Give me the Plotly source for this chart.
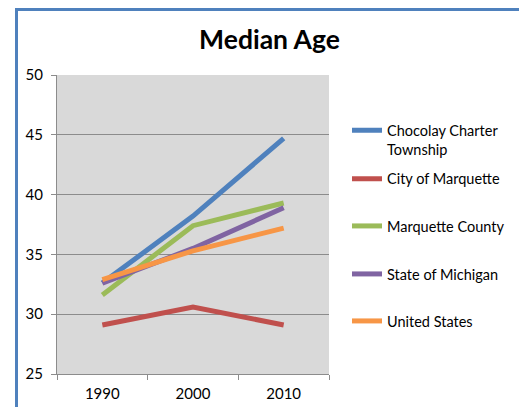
import plotly.graph_objects as go

years = ["1990", "2000", "2010"]
series_names = ["Chocolay Charter<br>Township", "City of Marquette", "Marquette County",
                "State of Michigan", "United States"]
chocolay = [32.6, 38.2, 44.7]
city_marquette = [29.1, 30.6, 29.1]
marquette_county = [31.6, 37.4, 39.3]
michigan = [32.6, 35.5, 38.9]
united_states = [32.9, 35.3, 37.2]
colors = ["#4F81BD", "#C0504D", "#9BBB59", "#8064A2", "#F79646"]
y_ticks = [25, 30, 35, 40, 45, 50]

W, H = 519, 407
L, R, T, B = 57, 190, 75, 33
pw, ph = W - L - R, H - T - B

def px_x(p):
    return (p - L) / pw

def px_y(p):
    return (H - B - p) / ph

FONT = "Lato"
fig = go.Figure()
all_vals = [chocolay, city_marquette, marquette_county, michigan, united_states]
legend_rows = [130.7, 178.7, 226, 274, 321]
for i, (name, vals) in enumerate(zip(series_names, all_vals)):
    lg = "legend" if i == 0 else f"legend{i+1}"
    fig.add_trace(go.Scatter(x=years, y=vals, mode="lines", name=name,
                             line=dict(color=colors[i], width=5),
                             legend=lg))

legend_common = dict(xanchor="left", yanchor="middle", bgcolor="rgba(0,0,0,0)",
                     font=dict(family=FONT, size=14.5, color="#000"), valign="top",
                     itemwidth=30)
layout_legends = {}
for i, row in enumerate(legend_rows):
    key = "legend" if i == 0 else f"legend{i+1}"
    yy = row + (9 if i == 0 else 0)
    layout_legends[key] = dict(x=px_x(347), y=px_y(yy), **legend_common)

fig.update_layout(
    width=W, height=H,
    margin=dict(l=L, r=R, t=T, b=B, pad=0, autoexpand=False),
    paper_bgcolor="white",
    plot_bgcolor="#D9D9D9",
    showlegend=True,
    title=dict(text="<b>Median Age</b>", x=269.5 / W, xref="container", xanchor="center",
               y=(H - 40) / H, yref="container", yanchor="middle",
               font=dict(family=FONT, size=26.5, color="#000")),
    xaxis=dict(type="category", range=[-0.5, 2.5], tickson="boundaries", ticks="outside",
               ticklen=5, tickcolor="#8C8C8C", showline=True, linecolor="#8C8C8C",
               showgrid=False, zeroline=False, ticklabelstandoff=6,
               tickfont=dict(family=FONT, size=15, color="#000")),
    yaxis=dict(range=[25, 50], tickvals=y_ticks, ticks="outside", ticklen=5,
               tickcolor="#8C8C8C", showline=True, linecolor="#8C8C8C",
               showgrid=True, gridcolor="#8C8C8C", gridwidth=1, zeroline=False,
               ticklabelstandoff=5,
               tickfont=dict(family=FONT, size=15, color="#000")),
    shapes=[
        dict(type="line", xref="paper", yref="paper", x0=px_x(16.5), x1=px_x(16.5),
             y0=px_y(9.5), y1=px_y(420), line=dict(color="#4F81BD", width=3)),
        dict(type="line", xref="paper", yref="paper", x0=px_x(15), x1=px_x(530),
             y0=px_y(9.5), y1=px_y(9.5), line=dict(color="#4F81BD", width=3)),
    ],
    **layout_legends,
)

fig.write_html("out.html", config={"displayModeBar": False},
               post_script="document.body.style.margin='0';document.body.style.overflow='hidden';")
